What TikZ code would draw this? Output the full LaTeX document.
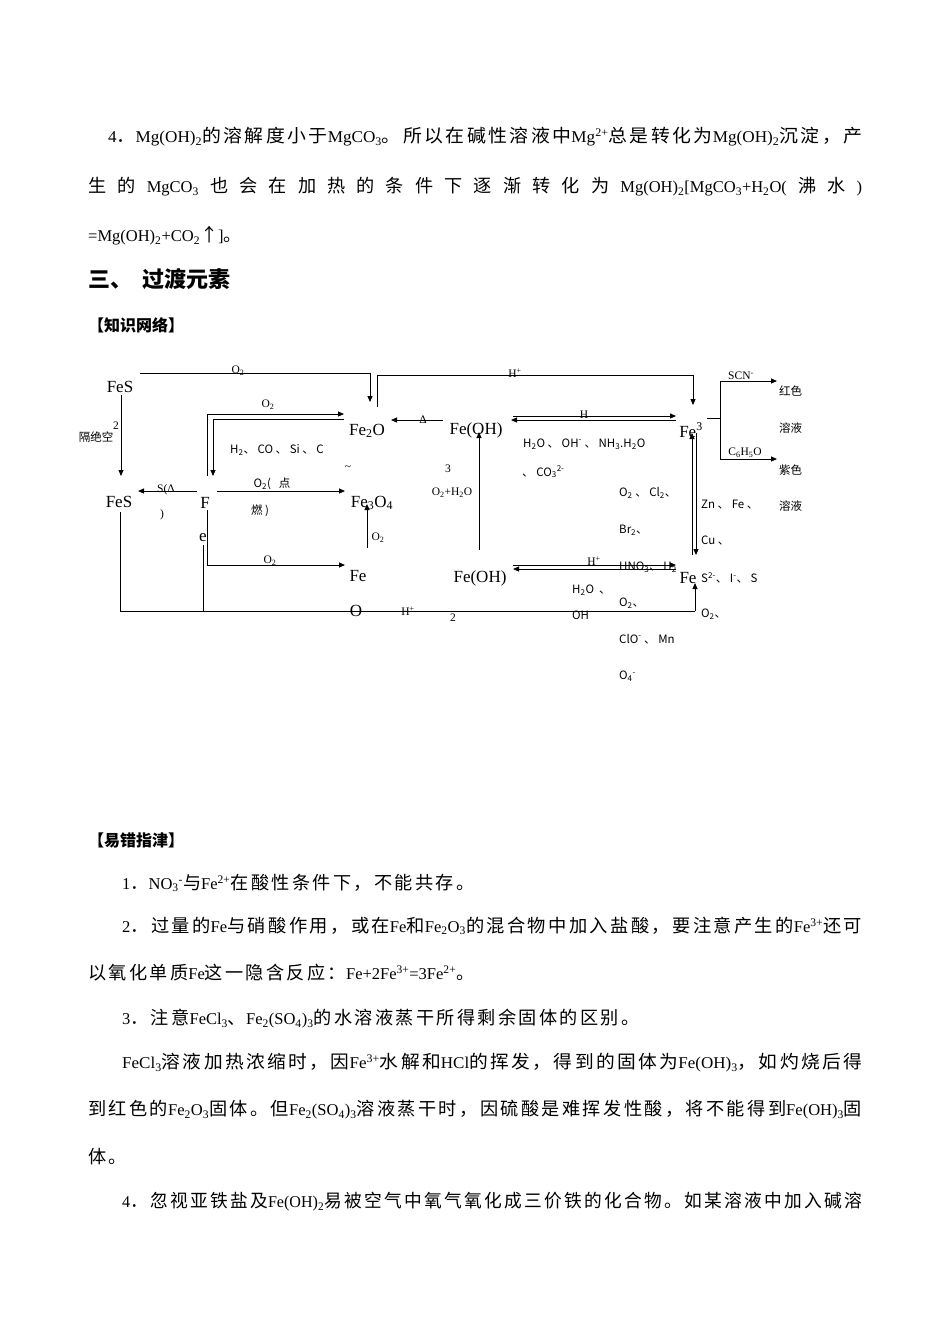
\documentclass[tikz,border=0pt]{standalone}
\usepackage{fontspec}
\usepackage{graphicx}
\setmainfont{Liberation Serif}
\newfontfamily\cjk{Noto Sans CJK SC}
\newfontfamily\cjkb[Scale=1.1,LetterSpace=13]{Noto Sans CJK SC}
\newcommand\zh[1]{{\cjkb #1}}
\newcommand\sub[1]{\textsubscript{#1}}
\newcommand\sups[1]{\textsuperscript{#1}}
\newcommand\fitw[2]{\resizebox{#1}{\height}{#2}}
\usetikzlibrary{arrows.meta}
\begin{document}
\begin{tikzpicture}[x=1pt,y=-1pt,
  body/.style={anchor=west,inner sep=0pt,font=\fontsize{16.5}{18}\selectfont},
  big/.style={anchor=center,inner sep=0pt,font=\fontsize{17}{18}\selectfont},
  lab/.style={anchor=center,inner sep=0pt,font=\fontsize{11.5}{12}\selectfont},
  ln/.style={line width=0.9pt},
  ar/.style={line width=0.9pt,-{Triangle[length=6pt,width=5pt]}}]
\useasboundingbox (0,0) rectangle (950,1342);
\fill[white] (0,0) rectangle (950,1342);
% text above
\node[body] (t1) at (108,137) {\fitw{754pt}{4\zh{．}Mg(OH)\sub{2}\zh{的溶解度小于}MgCO\sub{3}\zh{。所以在碱性溶液中}Mg\sups{2+}\zh{总是转化为}Mg(OH)\sub{2}\zh{沉淀，产}}};
\node[body] (t2) at (88,187) {\makebox[774pt][s]{\zh{生} \zh{的} MgCO\sub{3} \zh{也} \zh{会} \zh{在} \zh{加} \zh{热} \zh{的} \zh{条} \zh{件} \zh{下} \zh{逐} \zh{渐} \zh{转} \zh{化} \zh{为} Mg(OH)\sub{2}[MgCO\sub{3}+H\sub{2}O( \zh{沸} \zh{水} )}};
\node[body] (t3) at (88,236) {=Mg(OH)\sub{2}+CO\sub{2}\zh{↑}]\zh{。}};
\node[body,font=\fontsize{22}{24}\selectfont\cjk\bfseries] (h1) at (88,279) {三、\ \ 过渡元素};
\node[body,font=\fontsize{16}{18}\selectfont\cjk\bfseries] (h2) at (88,325) {【知识网络】};
% diagram nodes
\node[big] (fes2) at (120,387) {FeS};
\node[lab] (s2) at (116,426) {2};
\node[lab,font=\fontsize{11.5}{12}\selectfont\cjk] (gj) at (96,437) {隔绝空};
\node[big] (fes) at (119,502) {FeS};
\node[big] (fe1) at (205,503) {F};
\node[big] (fe2) at (203,538) {e};
\node[big] (fe2o) at (367,431) {Fe\sub{2}O};
\node[big] (fe3o4) at (372,503) {Fe\sub{3}O\sub{4}};
\node[big] (feo1) at (358,576) {Fe};
\node[big] (feo2) at (356,611) {O};
\node[big] (foh3) at (476,430) {Fe(OH)};
\node[lab] (f3) at (448,469) {3};
\node[big] (foh2) at (480,578) {Fe(OH)};
\node[lab] (f2) at (453,618) {2};
\node[big] (fe3) at (691,430) {Fe\sups{3}};
\node[big] (fe2p) at (688,578) {Fe};
% connectors
\draw[ar] (140,373) -- (370,373) -- (370,402);
\node[lab] (l1) at (238,371) {O\sub{2}};
\draw[ar] (121,395) -- (121,476);
\draw[ar] (377,407) -- (377,375) -- (693,375) -- (693,405);
\node[lab] (l2) at (515,373) {H\sups{+}};
\draw[ar] (207,476) -- (207,414) -- (344,414);
\draw[ar] (344,419) -- (213,419) -- (213,476);
\node[lab] (l3) at (268,405) {O\sub{2}};
\node[lab,font=\fontsize{11.5}{12}\selectfont\cjk] (l4) at (277,450) {H\sub{2}、 CO 、 Si 、 C};
\node[lab] (l5) at (348,468) {\textasciitilde};
\draw[ar] (217,491) -- (345,491);
\node[lab,font=\fontsize{11.5}{12}\selectfont\cjk] (l6) at (272,484) {O\sub{2}(\ \ \ 点};
\node[lab,font=\fontsize{11.5}{12}\selectfont\cjk] (l7) at (260,511) {燃 )};
\draw[ar] (197,491) -- (138,491);
\node[lab] (l8) at (166,490) {S(Δ};
\node[lab] (l9) at (162,515) {)};
\draw[ar] (207,510) -- (207,565) -- (345,565);
\node[lab] (l10) at (270,561) {O\sub{2}};
\draw[ar] (367,548) -- (367,504);
\node[lab] (l11) at (378,538) {O\sub{2}};
\draw[ln] (120,512) -- (120,611) -- (695,611);
\draw[ln] (203,545) -- (203,611);
\draw[ar] (695,611) -- (695,583);
\node[lab] (l12) at (408,611) {H\sups{+}};
\draw[ar] (443,420) -- (391,420);
\node[lab] (l13) at (423,420) {Δ};
\draw[ar] (479,550) -- (479,432);
\node[lab] (l14) at (452,493) {O\sub{2}+H\sub{2}O};
\draw[ar] (513,416) -- (676,416);
\draw[ar] (676,420) -- (511,420);
\node[lab] (l15) at (584,415) {H};
\node[lab,anchor=west,font=\fontsize{11.5}{12}\selectfont\cjk] (l16) at (523,444) {H\sub{2}O 、 OH\sups{-} 、 NH\sub{3}.H\sub{2}O};
\node[lab,anchor=west,font=\fontsize{11.5}{12}\selectfont\cjk] (l17) at (522,472) {、 CO\sub{3}\sups{2-}};
\draw[ln] (707,418) -- (720,418);
\draw[ln] (720,381) -- (720,459);
\draw[ar] (720,381) -- (777,381);
\draw[ar] (720,459) -- (777,459);
\node[lab] (l18) at (741,376) {SCN\sups{-}};
\node[lab] (l19) at (745,453) {C\sub{6}H\sub{5}O};
\begin{scope}[every node/.style={lab,anchor=west,font=\fontsize{11.5}{12}\selectfont\cjk}]
\node (c1) at (779,391) {红色};
\node (c2) at (779,428) {溶液};
\node (c3) at (779,470) {紫色};
\node (c4) at (779,506) {溶液};
\node (r1) at (701,505) {Zn 、 Fe 、};
\node (r2) at (701,541) {Cu 、};
\node (r3) at (701,578) {S\sups{2-}、 I\sups{-}、 S};
\node (r4) at (701,614) {O\sub{2}、};
\node (q1) at (619,493) {O\sub{2} 、 Cl\sub{2}、};
\node (q2) at (619,530) {Br\sub{2}、};
\node (q3) at (619,567) {HNO\sub{3}、 H\sub{2}};
\node (q4) at (619,603) {O\sub{2}、};
\node (q5) at (619,639) {ClO\sups{-} 、 Mn};
\node (q6) at (619,676) {O\sub{4}\sups{-}};
\node (p1) at (572,590) {H\sub{2}O \ 、};
\node (p2) at (572,615) {OH\sups{-}};
\end{scope}
\draw[ar] (692,555) -- (692,433);
\draw[ar] (696,433) -- (696,555);
\draw[ar] (513,565) -- (676,565);
\draw[ar] (676,569) -- (513,569);
\node[lab] (l20) at (594,561) {H\sups{+}};
% text below
\node[body,font=\fontsize{16}{18}\selectfont\cjk\bfseries] (h3) at (88,840) {【易错指津】};
\node[body] (b1) at (122,883) {1\zh{．}NO\sub{3}\sups{-}\zh{与}Fe\sups{2+}\zh{在酸性条件下，不能共存。}};
\node[body] (b2) at (122,926) {\fitw{740pt}{2\zh{．过量的}Fe\zh{与硝酸作用，或在}Fe\zh{和}Fe\sub{2}O\sub{3}\zh{的混合物中加入盐酸，要注意产生的}Fe\sups{3+}\zh{还可}}};
\node[body] (b3) at (88,973) {\zh{以氧化单质}Fe\zh{这一隐含反应：}Fe+2Fe\sups{3+}=3Fe\sups{2+}\zh{。}};
\node[body] (b4) at (122,1019) {3\zh{．注意}FeCl\sub{3}\zh{、}Fe\sub{2}(SO\sub{4})\sub{3}\zh{的水溶液蒸干所得剩余固体的区别。}};
\node[body] (b5) at (122,1063) {\fitw{740pt}{FeCl\sub{3}\zh{溶液加热浓缩时，因}Fe\sups{3+}\zh{水解和}HCl\zh{的挥发，得到的固体为}Fe(OH)\sub{3}\zh{，如灼烧后得}}};
\node[body] (b6) at (88,1110) {\fitw{774pt}{\zh{到红色的}Fe\sub{2}O\sub{3}\zh{固体。但}Fe\sub{2}(SO\sub{4})\sub{3}\zh{溶液蒸干时，因硫酸是难挥发性酸，将不能得到}Fe(OH)\sub{3}\zh{固}}};
\node[body] (b7) at (88,1157) {\zh{体。}};
\node[body] (b8) at (122,1202) {\fitw{740pt}{4\zh{．忽视亚铁盐及}Fe(OH)\sub{2}\zh{易被空气中氧气氧化成三价铁的化合物。如某溶液中加入碱溶}}};
\end{tikzpicture}
\end{document}
